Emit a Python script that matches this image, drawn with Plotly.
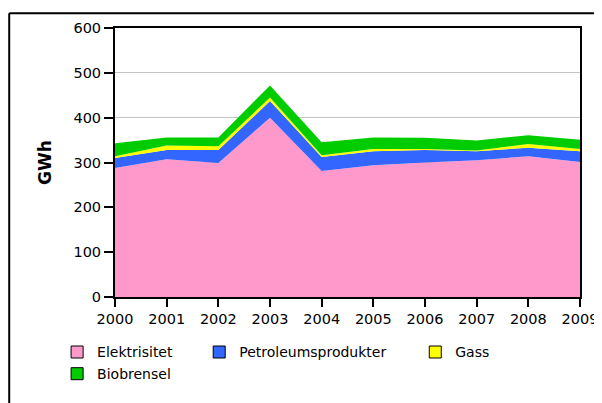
import plotly.graph_objects as go

years = [2000, 2001, 2002, 2003, 2004, 2005, 2006, 2007, 2008, 2009]
series_names = ["Elektrisitet", "Petroleumsprodukter", "Gass", "Biobrensel"]
elektrisitet = [288, 307, 299, 400, 281, 294, 300, 305, 314, 301]
petroleum = [22, 21, 29, 37, 31, 31, 28, 20, 19, 24]
gass = [4, 10, 8, 8, 4, 5, 2, 2, 8, 5]
biobrensel = [29, 18, 20, 27, 29, 26, 25, 22, 20, 21]

colors = ["#FF99CC", "#3366FF", "#FFFF00", "#00CC00"]
values = [elektrisitet, petroleum, gass, biobrensel]

FONT = "DejaVu Sans"

# the page body has an 8px margin, so plot area is laid out in figure coords
# (screen - 8): plot spans x 107..573, y 16..289
fig = go.Figure()
for name, vals, col in zip(series_names, values, colors):
    fig.add_trace(go.Scatter(
        x=years, y=vals, name=name, mode="lines", stackgroup="one",
        line=dict(width=0, color=col), fillcolor=col, showlegend=False,
    ))

# one legend per entry so they sit like the original grid
legend_ids = ["legend", "legend2", "legend3", "legend4"]
legend_pos = [(-0.1245, -0.1465), (0.1811, -0.1465), (0.6457, -0.1465), (-0.1245, -0.2271)]
for name, col, lid in zip(series_names, colors, legend_ids):
    fig.add_trace(go.Scatter(
        x=[None], y=[None], name=name, mode="markers", legend=lid,
        marker=dict(symbol="square", size=12, color=col, line=dict(color="black", width=1)),
    ))

legend_layout = {}
for lid, (lx, ly) in zip(legend_ids, legend_pos):
    legend_layout[lid] = dict(orientation="h", x=lx, y=ly, xanchor="left", yanchor="top",
                              font=dict(size=14, family=FONT), bgcolor="rgba(0,0,0,0)")

fig.update_layout(
    width=602, height=403,
    margin=dict(l=107, r=29, t=16, b=114),
    paper_bgcolor="white", plot_bgcolor="white",
    font=dict(family=FONT, size=14, color="black"),
    xaxis=dict(range=[2000, 2009], tickmode="array", tickvals=years,
               showgrid=False, ticks="outside", ticklen=8, tickwidth=2, tickcolor="black",
               showline=True, linecolor="black", linewidth=2, mirror=True,
               tickfont=dict(size=14.5)),
    yaxis=dict(range=[0, 600], dtick=100, showgrid=True, gridcolor="#C4C4C4", gridwidth=1,
               ticks="outside", ticklen=9, tickwidth=2, tickcolor="black",
               showline=True, linecolor="black", linewidth=2, mirror=True,
               zeroline=False, tickfont=dict(size=14.5),
               title=dict(text="<b>GWh</b>", font=dict(size=17), standoff=17)),
    shapes=[
        dict(type="line", xref="paper", yref="paper", x0=-0.2275, x1=1.2, y0=1.0549, y1=1.0549,
             line=dict(color="black", width=2)),
        dict(type="line", xref="paper", yref="paper", x0=-0.2275, x1=-0.2275, y0=1.0549, y1=-0.5,
             line=dict(color="black", width=2)),
    ],
    **legend_layout,
)

fig.write_html("out.html")
